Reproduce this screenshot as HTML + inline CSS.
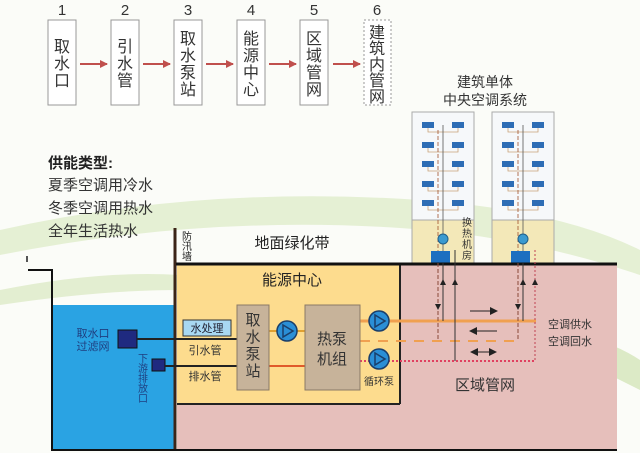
<!DOCTYPE html>
<html><head><meta charset="utf-8"><style>
body{margin:0;background:#fff;}
svg{display:block;font-family:"Liberation Sans","Noto Sans CJK SC",sans-serif;}
</style></head><body>
<svg width="640" height="453" viewBox="0 0 640 453" xmlns="http://www.w3.org/2000/svg">
<defs>
<marker id="ar" markerWidth="8" markerHeight="8" refX="7" refY="4" orient="auto" markerUnits="userSpaceOnUse"><path d="M0,0 L8,4 L0,8 z" fill="#c0504d"/></marker>
<marker id="bk" markerWidth="8" markerHeight="8" refX="7" refY="4" orient="auto" markerUnits="userSpaceOnUse"><path d="M0,0 L8,4 L0,8 z" fill="#222"/></marker>
<marker id="bks" markerWidth="8" markerHeight="8" refX="1" refY="4" orient="auto" markerUnits="userSpaceOnUse"><path d="M8,0 L0,4 L8,8 z" fill="#222"/></marker>
</defs>
<rect width="640" height="453" fill="#fbfcf8"/>
<path d="M0,230 Q200,185 420,200 Q560,210 640,250 L640,275 Q520,235 400,228 Q200,215 0,255z" fill="#dcebc4" opacity="0.7"/>
<path d="M0,290 Q100,270 180,275 L180,290 Q100,290 0,305z" fill="#d3e5b8" opacity="0.6"/>
<path d="M560,330 Q610,340 640,360 L640,390 Q600,370 560,350z" fill="#cfe3b0" opacity="0.7"/>

<g font-size="15" fill="#333" text-anchor="middle">
<text x="62" y="15">1</text><text x="125" y="15">2</text><text x="188" y="15">3</text><text x="251" y="15">4</text><text x="314" y="15">5</text><text x="377" y="15">6</text>
</g>
<g fill="#fff" stroke="#999" stroke-width="1">
<rect x="48" y="20" width="28" height="85"/><rect x="111" y="20" width="28" height="85"/><rect x="174" y="20" width="28" height="85"/><rect x="237" y="20" width="28" height="85"/><rect x="300" y="20" width="28" height="85"/>
<rect x="364" y="20" width="27" height="85" stroke-dasharray="2,2"/>
</g>
<g font-size="16" fill="#333" text-anchor="middle">
<text x="62" y="52">取</text><text x="62" y="69">水</text><text x="62" y="86">口</text>
<text x="125" y="52">引</text><text x="125" y="69">水</text><text x="125" y="86">管</text>
<text x="188" y="44">取</text><text x="188" y="61">水</text><text x="188" y="78">泵</text><text x="188" y="95">站</text>
<text x="251" y="44">能</text><text x="251" y="61">源</text><text x="251" y="78">中</text><text x="251" y="95">心</text>
<text x="314" y="44">区</text><text x="314" y="61">域</text><text x="314" y="78">管</text><text x="314" y="95">网</text>
<text x="377" y="38">建</text><text x="377" y="54">筑</text><text x="377" y="70">内</text><text x="377" y="86">管</text><text x="377" y="102">网</text>
</g>
<g stroke="#c0504d" stroke-width="2" marker-end="url(#ar)">
<line x1="80" y1="64" x2="107" y2="64"/><line x1="143" y1="64" x2="170" y2="64"/><line x1="206" y1="64" x2="233" y2="64"/><line x1="269" y1="64" x2="296" y2="64"/><line x1="333" y1="64" x2="360" y2="64"/>
</g>

<text x="48" y="168" font-size="15" font-weight="bold" fill="#222">供能类型:</text>
<g font-size="15" fill="#333"><text x="48" y="190">夏季空调用冷水</text><text x="48" y="213">冬季空调用热水</text><text x="48" y="236">全年生活热水</text></g>

<text x="485" y="87" font-size="14" fill="#333" text-anchor="middle">建筑单体</text>
<text x="485" y="105" font-size="14" fill="#333" text-anchor="middle">中央空调系统</text>
<g id="b1">
<rect x="412" y="112" width="62" height="108" fill="#f6f8fa" stroke="#aaa"/>
<rect x="412" y="220" width="62" height="43" fill="#f3e8b8" stroke="#aaa"/>
<g fill="#2e6db5">
<rect x="422" y="122" width="12" height="6"/><rect x="452" y="122" width="12" height="6"/>
<rect x="422" y="142" width="12" height="6"/><rect x="452" y="142" width="12" height="6"/>
<rect x="422" y="161" width="12" height="6"/><rect x="452" y="161" width="12" height="6"/>
<rect x="422" y="181" width="12" height="6"/><rect x="452" y="181" width="12" height="6"/>
<rect x="422" y="200" width="12" height="6"/><rect x="452" y="200" width="12" height="6"/>
</g>
<g stroke="#c9a27a" stroke-width="0.8" fill="none">
<path d="M428,128 v4 h30 v-4 M428,148 v4 h30 v-4 M428,167 v4 h30 v-4 M428,187 v4 h30 v-4 M428,206 v4 h30 v-4"/>
</g>
<line x1="443" y1="125" x2="443" y2="252" stroke="#555" stroke-width="0.8"/>
<line x1="438" y1="130" x2="438" y2="252" stroke="#a0522d" stroke-width="0.8" stroke-dasharray="4,2"/>
<circle cx="443" cy="239" r="5" fill="#3a9ad0" stroke="#1f5f8a"/>
<rect x="431" y="251" width="19" height="12" fill="#1d6fc0"/>
</g>
<use href="#b1" x="80"/>
<text x="467" y="226" font-size="10" fill="#333" text-anchor="middle"><tspan x="467" dy="0">换</tspan><tspan x="467" dy="11">热</tspan><tspan x="467" dy="11">机</tspan><tspan x="467" dy="11">房</tspan></text>

<rect x="52" y="305" width="124" height="146" fill="#2aa3e3"/>
<rect x="177" y="265" width="223" height="139" fill="#fddc8e"/>
<rect x="177" y="404" width="223" height="46" fill="#e6bfbb"/>
<rect x="400" y="265" width="217" height="185" fill="#e6bfbb"/>
<line x1="400" y1="265" x2="400" y2="404" stroke="#222" stroke-width="2"/>
<line x1="177" y1="404" x2="400" y2="404" stroke="#222" stroke-width="2"/>
<line x1="175" y1="228" x2="175" y2="451" stroke="#3b2418" stroke-width="3"/>
<line x1="176" y1="264" x2="617" y2="264" stroke="#111" stroke-width="3"/>
<line x1="52" y1="450" x2="617" y2="450" stroke="#111" stroke-width="2"/>
<path d="M28,270 H52 V451" fill="none" stroke="#111" stroke-width="2"/>
<line x1="27" y1="256" x2="27" y2="262" stroke="#555" stroke-width="2"/>
<text x="187" y="240" font-size="10" fill="#222" text-anchor="middle"><tspan x="187">防</tspan><tspan x="187" dy="10">汛</tspan><tspan x="187" dy="10">墙</tspan></text>
<text x="292" y="248" font-size="15" fill="#222" text-anchor="middle">地面绿化带</text>
<text x="292" y="285" font-size="15" fill="#222" text-anchor="middle">能源中心</text>

<text x="93" y="337" font-size="11" fill="#1f3f80" text-anchor="middle">取水口</text>
<text x="93" y="350" font-size="11" fill="#1f3f80" text-anchor="middle">过滤网</text>
<rect x="118" y="330" width="19" height="18" fill="#1f2a80" stroke="#111"/>
<rect x="152" y="359" width="13" height="12" fill="#1f2a80" stroke="#111"/>
<text x="143" y="362" font-size="10" fill="#1f3f80" text-anchor="middle"><tspan x="143">下</tspan><tspan x="143" dy="10">游</tspan><tspan x="143" dy="10">排</tspan><tspan x="143" dy="10">放</tspan><tspan x="143" dy="10">口</tspan></text>
<line x1="137" y1="339" x2="237" y2="339" stroke="#222" stroke-width="2"/>
<line x1="165" y1="366" x2="237" y2="366" stroke="#222" stroke-width="2"/>
<rect x="183" y="320" width="48" height="16" fill="#a8d8f2" stroke="#333"/>
<text x="207" y="332" font-size="11" fill="#223" text-anchor="middle">水处理</text>
<text x="205" y="354" font-size="11" fill="#333" text-anchor="middle">引水管</text>
<text x="205" y="380" font-size="11" fill="#333" text-anchor="middle">排水管</text>

<line x1="269" y1="331" x2="305" y2="331" stroke="#e0a030" stroke-width="2"/>
<line x1="269" y1="366" x2="305" y2="366" stroke="#e05a2a" stroke-width="2"/>
<line x1="360" y1="321" x2="536" y2="321" stroke="#f0a050" stroke-width="3"/>
<line x1="360" y1="341" x2="522" y2="341" stroke="#f0a050" stroke-width="2" stroke-dasharray="10,8"/>
<line x1="360" y1="361" x2="535" y2="361" stroke="#e04060" stroke-width="2" stroke-dasharray="2,2"/>

<rect x="237" y="305" width="32" height="85" fill="#c7b39a" stroke="#8a7a66"/>
<text x="253" y="325" font-size="15" fill="#333" text-anchor="middle"><tspan x="253">取</tspan><tspan x="253" dy="17">水</tspan><tspan x="253" dy="17">泵</tspan><tspan x="253" dy="17">站</tspan></text>
<rect x="305" y="305" width="55" height="85" fill="#c7b39a" stroke="#8a7a66"/>
<text x="332" y="344" font-size="15" fill="#333" text-anchor="middle">热泵</text>
<text x="332" y="364" font-size="15" fill="#333" text-anchor="middle">机组</text>
<g fill="#2a8fd6" stroke="#1a3f6a" stroke-width="1.5">
<circle cx="287" cy="331" r="10"/><circle cx="379" cy="321" r="10"/><circle cx="379" cy="359" r="10"/>
</g>
<g fill="none" stroke="#1a3f6a" stroke-width="1.5">
<path d="M283,325 L293,331 L283,337z"/><path d="M375,315 L385,321 L375,327z"/><path d="M375,353 L385,359 L375,365z"/>
</g>
<text x="379" y="385" font-size="10" fill="#333" text-anchor="middle">循环泵</text>

<g>
<line x1="438" y1="263" x2="438" y2="341" stroke="#8a4a3a" stroke-width="1" stroke-dasharray="4,2"/>
<line x1="443" y1="263" x2="443" y2="321" stroke="#333" stroke-width="1"/>
<line x1="455" y1="250" x2="455" y2="361" stroke="#333" stroke-width="1"/>
<line x1="518" y1="263" x2="518" y2="341" stroke="#8a4a3a" stroke-width="1" stroke-dasharray="4,2"/>
<line x1="523" y1="263" x2="523" y2="321" stroke="#333" stroke-width="1"/>
<line x1="535" y1="250" x2="535" y2="361" stroke="#c04050" stroke-width="1" stroke-dasharray="2,2"/>
</g>
<g fill="#222">
<path d="M440,285 l3,-6 l3,6z"/><path d="M452,285 l3,-6 l3,6z"/><path d="M520,285 l3,-6 l3,6z"/><path d="M532,285 l3,-6 l3,6z"/>
<path d="M435,304 l3,6 l3,-6z"/><path d="M515,304 l3,6 l3,-6z"/>
</g>
<g stroke="#222" stroke-width="1">
<line x1="470" y1="311" x2="497" y2="311" marker-end="url(#bk)"/>
<line x1="497" y1="331" x2="470" y2="331" marker-end="url(#bk)"/>
<line x1="471" y1="352" x2="496" y2="352" marker-end="url(#bk)" marker-start="url(#bks)"/>
</g>
<text x="548" y="328" font-size="11" fill="#333">空调供水</text>
<text x="548" y="345" font-size="11" fill="#333">空调回水</text>
<text x="485" y="390" font-size="15" fill="#333" text-anchor="middle">区域管网</text>
</svg>
</body></html>
